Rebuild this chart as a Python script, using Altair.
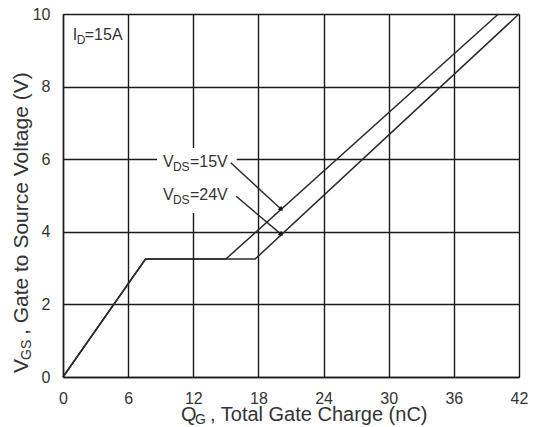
import altair as alt
import pandas as pd

# ---- data ----
x_ticks = [0, 6, 12, 18, 24, 30, 36, 42]
y_ticks = [0, 2, 4, 6, 8, 10]

q_vds15 = [0, 7.6, 15.0, 40.1]
v_vds15 = [0, 3.25, 3.25, 10.0]
q_vds24 = [0, 7.6, 17.7, 42.0]
v_vds24 = [0, 3.25, 3.25, 10.0]

# annotation arrows: from label (q0,v0) to curve (q1,v1)
arrow_q0 = [15.45, 15.95]
arrow_v0 = [5.9, 4.98]
arrow_q1 = [20.1, 20.1]
arrow_v1 = [4.62, 3.93]

# white mask behind the V_DS labels
mask_q = [8.66, 16.0]
mask_v = [4.52, 6.31]

# label anchors
lab15 = (9.2, 5.78)
lab24 = (9.2, 4.88)
lab_id = (0.9, 9.28)

FONT = "Liberation Sans"
TXT = "#333333"
GRID = "#1a1a1a"

W, H = 456, 363

curves = pd.DataFrame({
    "q": q_vds15 + q_vds24,
    "v": v_vds15 + v_vds24,
    "s": ["15V"] * len(q_vds15) + ["24V"] * len(q_vds24),
})
arrows = pd.DataFrame({"q": arrow_q0, "v": arrow_v0, "q2": arrow_q1, "v2": arrow_v1})
heads = pd.DataFrame({"q": arrow_q1, "v": arrow_v1})
mask = pd.DataFrame({"q": [mask_q[0]], "q2": [mask_q[1]], "v": [mask_v[0]], "v2": [mask_v[1]]})

xs = alt.Scale(domain=[0, 42], nice=False, zero=False)
ys = alt.Scale(domain=[0, 10], nice=False, zero=False)

ax_x = alt.Axis(values=x_ticks, grid=True, gridColor=GRID, gridWidth=1.4,
                domainColor=GRID, domainWidth=1.4, ticks=False,
                labelFontSize=16, labelFont=FONT, labelColor=TXT,
                labelPadding=13, labelFlush=False, labelOverlap=False, title=None)
ax_y = alt.Axis(values=y_ticks, grid=True, gridColor=GRID, gridWidth=1.4,
                domainColor=GRID, domainWidth=1.4, ticks=False,
                labelFontSize=16, labelFont=FONT, labelColor=TXT,
                labelPadding=13, labelFlush=False, labelOverlap=False, title=None)

base_mask = alt.Chart(mask).mark_rect(color="white").encode(
    x=alt.X("q:Q", scale=xs, axis=ax_x), x2="q2:Q",
    y=alt.Y("v:Q", scale=ys, axis=ax_y), y2="v2:Q",
)

lines = alt.Chart(curves).mark_line(color="#2a2a2a", strokeWidth=1.5).encode(
    x="q:Q", y="v:Q", detail="s:N", order=alt.Order("q:Q")
)

arrow_lines = alt.Chart(arrows).mark_rule(color="#2a2a2a", strokeWidth=1.4).encode(
    x="q:Q", y="v:Q", x2="q2:Q", y2="v2:Q"
)
arrow_heads = alt.Chart(heads).mark_point(
    shape="triangle-up", filled=True, color="#111111", size=28, angle=132, opacity=1
).encode(x="q:Q", y="v:Q")


def rich(anchor, parts):
    df = pd.DataFrame({"q": [anchor[0]], "v": [anchor[1]]})
    out = []
    for t, s, dx, dy in parts:
        out.append(alt.Chart(df).mark_text(
            text=t, fontSize=s, dx=dx, dy=dy, align="left", baseline="alphabetic",
            font=FONT, color=TXT).encode(x="q:Q", y="v:Q"))
    return out


def rich_px(px, py, parts, angle=0):
    df = pd.DataFrame({"a": [0]})
    out = []
    for t, s, dx, dy in parts:
        kw = dict(text=t, fontSize=s, dx=dx, dy=dy, align="left", baseline="alphabetic",
                  font=FONT, color=TXT)
        if angle:
            kw["angle"] = angle
        out.append(alt.Chart(df).mark_text(**kw).encode(x=alt.value(px), y=alt.value(py)))
    return out


texts = []
texts += rich(lab15, [("V", 16, 0, 0), ("DS", 12, 10, 4), ("=15V", 16, 27, 0)])
texts += rich(lab24, [("V", 16, 0, 0), ("DS", 12, 10, 4), ("=24V", 16, 27, 0)])
texts += rich(lab_id, [("I", 16, 0, 0), ("D", 12, 4, 4), ("=15A", 16, 12, 0)])

# axis titles with subscripts
texts += rich_px(118, 407, [("Q", 20, 0, 0), ("G", 14, 14, 3), (", Total Gate Charge (nC)", 20, 29, 0)])
texts += rich_px(-35, 359, [("V", 21, 0, 0), ("GS", 14, 13, 3), (", Gate to Source Voltage (V)", 21, 38, 0)], angle=270)

chart = alt.layer(base_mask, lines, arrow_lines, arrow_heads, *texts).properties(
    width=W, height=H,
    autosize=alt.AutoSizeParams(type="none"),
    padding={"left": 63, "top": 14, "right": 15, "bottom": 50},
).configure_view(stroke=GRID, strokeWidth=1.4).configure(background="white")

chart.save("out.html", embed_options={"renderer": "svg", "actions": False})
